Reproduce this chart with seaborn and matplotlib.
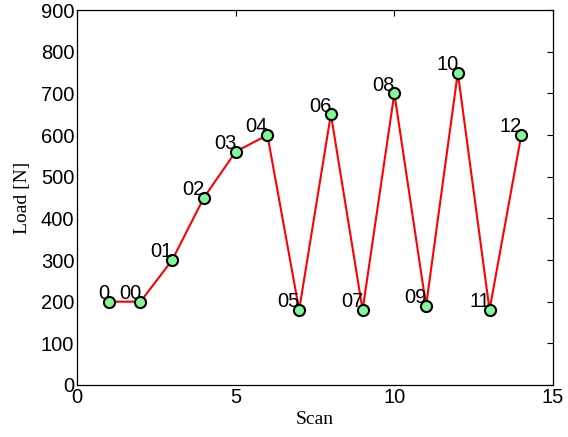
import numpy as np
import pandas as pd
import matplotlib
matplotlib.use("Agg")
import matplotlib.pyplot as plt
import seaborn as sns

# data
scan = [1, 2, 3, 4, 5, 6, 7, 8, 9, 10, 11, 12, 13, 14]
load = [200, 200, 300, 450, 560, 600, 180, 650, 180, 700, 190, 750, 180, 600]
labels = ["0", "00", "01", "02", "03", "04", "05", "06", "07", "08", "09", "10", "11", "12"]

df = pd.DataFrame({"Scan": scan, "Load": load})

sns.set_style("white")
plt.rcParams["font.family"] = ["Liberation Sans", "DejaVu Sans"]
plt.rcParams["text.color"] = "black"
plt.rcParams["xtick.color"] = "black"
plt.rcParams["ytick.color"] = "black"
plt.rcParams["axes.labelcolor"] = "black"

fig = plt.figure(figsize=(5.68, 4.37), dpi=100)
ax = fig.add_axes([0.1356, 0.119, 0.838, 0.858])

sns.lineplot(data=df, x="Scan", y="Load", ax=ax, color="red", linewidth=1.5,
             marker="o", markersize=8, markerfacecolor="#80f898",
             markeredgecolor="black", markeredgewidth=1.5, sort=False)

for x, y, t in zip(scan, load, labels):
    ax.annotate(t, (x, y), xytext=(0.5, -1), textcoords="offset points",
                ha="right", va="bottom", fontsize=14.5)

ax.set_xlim(0, 15)
ax.set_ylim(0, 900)
ax.set_xticks([0, 5, 10, 15])
ax.set_yticks(np.arange(0, 901, 100))
ax.tick_params(direction="in", top=True, right=True, labelsize=14.5,
               length=4, width=0.8, pad=2)
for s in ax.spines.values():
    s.set_visible(True)
    s.set_color("black")
    s.set_linewidth(0.9)

ax.set_xlabel("Scan", family="Liberation Serif", fontsize=14, labelpad=3)
ax.set_ylabel("Load [N]", family="Liberation Serif", fontsize=14, labelpad=7)

fig.savefig("out.png", dpi=100)
